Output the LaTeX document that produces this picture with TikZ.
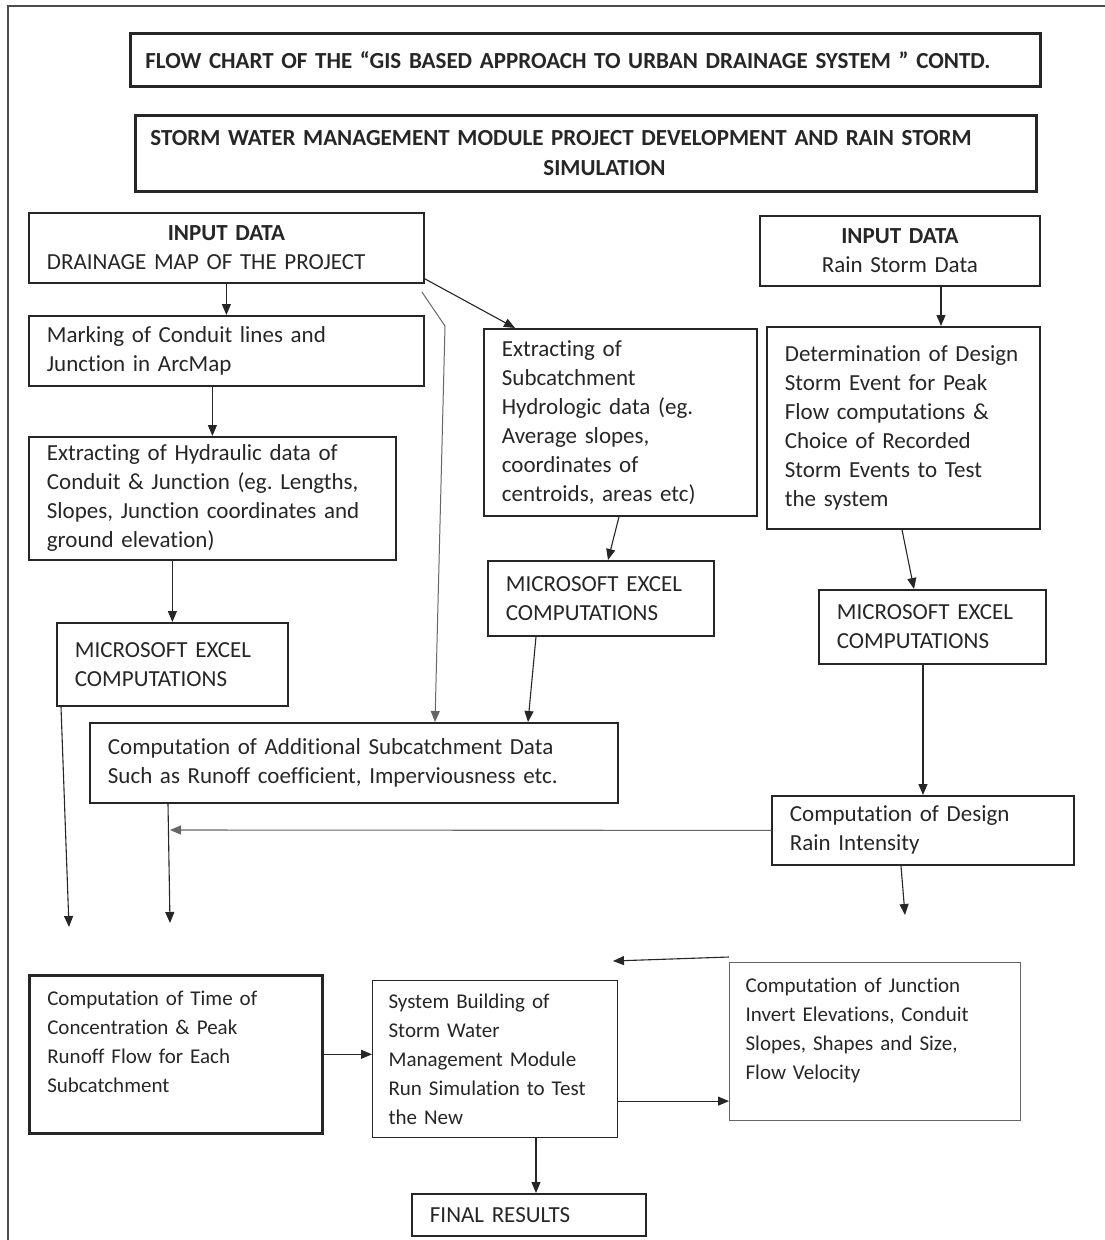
\documentclass[tikz,border=0pt]{standalone}
\usepackage{fontspec}
\setmainfont{Carlito}[Ligatures=NoCommon]
\usetikzlibrary{arrows.meta,positioning,calc}
\frenchspacing

\begin{document}
\begin{tikzpicture}[
  x=1pt,y=-1pt,
  font=\fontsize{23}{29}\selectfont,
  box/.style={draw=black!85,line width=1.8pt,anchor=north west,align=left,inner xsep=18pt,inner ysep=4pt,text=black!85},
  headbox/.style={box,line width=2.8pt,inner xsep=15pt,font=\fontsize{23}{30}\selectfont\bfseries},
  lightbox/.style={box,line width=1.1pt,inner xsep=16pt},
  low/.style={font=\fontsize{21}{29}\selectfont},
  topbox/.style={text height=26pt,text depth=124pt},
  arr/.style={-{Triangle[length=11pt,width=9pt]},line width=1.1pt,draw=black!85}
]
\useasboundingbox (0,0) rectangle (1105,1240);
\draw[line width=1.5pt,black!70] (8,1240) -- (8,6) -- (1105,6);

% titles
\node[headbox,minimum width=910pt,minimum height=53pt,text width=880pt] (title) at (129,32) {FLOW CHART OF THE “GIS BASED APPROACH TO URBAN DRAINAGE SYSTEM ” CONTD.};
\node[headbox,minimum width=901pt,minimum height=76pt,text width=871pt] (module) at (134,114) {STORM WATER MANAGEMENT MODULE PROJECT DEVELOPMENT AND RAIN STORM\\\hspace*{393pt}SIMULATION};

% left column
\node[box,text width=359pt,minimum height=70pt] (inp1) at (28,212) {\makebox[\linewidth]{\bfseries INPUT DATA}\\DRAINAGE MAP OF THE PROJECT};
\node[box,text width=359pt,minimum height=70pt] (mark) at (28,315) {Marking of Conduit lines and\\Junction in ArcMap};
\node[box,text width=331pt,minimum height=123pt] (hyd) at (28,436) {Extracting of Hydraulic data of\\Conduit \& Junction (eg. Lengths,\\Slopes, Junction coordinates and\\ground elevation)};
\node[box,text width=195pt,minimum height=83pt] (xl1) at (56,622) {MICROSOFT EXCEL\\COMPUTATIONS};

% middle column
\node[box,text width=237pt,minimum height=187pt] (sub) at (483,328) {Extracting of\\Subcatchment\\Hydrologic data (eg.\\Average slopes,\\coordinates of\\centroids, areas etc)};
\node[box,text width=190pt,minimum height=75pt] (xl2) at (487,560) {MICROSOFT EXCEL\\COMPUTATIONS};
\node[box,text width=492pt,minimum height=80pt] (add) at (89,722) {Computation of Additional Subcatchment Data\\Such as Runoff coefficient, Imperviousness etc.};

% right column
\node[box,text width=244pt,minimum height=70pt,align=center] (inp2) at (759,215) {\textbf{INPUT DATA}\hspace*{44pt}\\Rain Storm Data};
\node[box,text width=237pt,minimum height=202pt] (des) at (766,326) {Determination of Design\\Storm Event for Peak\\Flow computations \&\\Choice of Recorded\\Storm Events to Test\\the system};
\node[box,text width=191pt,minimum height=74pt] (xl3) at (818,589) {MICROSOFT EXCEL\\COMPUTATIONS};
\node[box,text width=266pt,minimum height=69pt] (rain) at (771,795) {Computation of Design\\Rain Intensity};

% bottom row
\node[box,low,topbox,line width=2.6pt,text width=257pt,minimum height=158pt] (tc) at (28,974) {Computation of Time of\\Concentration \& Peak\\Runoff Flow for Each\\Subcatchment};
\node[lightbox,low,text width=213pt,minimum height=157pt] (sys) at (372,980) {System Building of\\Storm Water\\Management Module\\Run Simulation to Test\\the New};
\node[lightbox,low,topbox,draw=black!60,text width=259pt,minimum height=158pt] (jun) at (729,962) {Computation of Junction\\Invert Elevations, Conduit\\Slopes, Shapes and Size,\\Flow Velocity};
\node[box,text width=198pt,minimum height=42pt] (fin) at (411,1193) {FINAL RESULTS};

% loose ends
\coordinate (bend) at (445,326);
\coordinate (hit) at (170,830);
\coordinate (end1) at (69,927);
\coordinate (end2) at (170,923);
\coordinate (end3) at (905,915);
\coordinate (end4) at (613,961);

\draw[arr] (inp1.south) -- (mark.north);
\draw[arr] (mark.south -| hyd.north) -- (hyd.north);
\draw[arr] (hyd.south -| xl1.north) -- (xl1.north);
\draw[arr] ($(inp1.south east)+(0,-5)$) -- ($(sub.north west)+(32,0)$);
\draw[arr,draw=black!60,line width=1pt] ($(inp1.south east)+(-3,8)$) -- (bend) -- ($(add.north west)+(346,0)$);
\draw[arr] ($(sub.south west)+(136,0)$) -- ($(xl2.north west)+(121,0)$);
\draw[arr] ($(xl2.south west)+(49,0)$) -- ($(add.north west)+(439,0)$);
\draw[arr] ($(inp2.south west)+(182,0)$) -- ($(des.north west)+(175,0)$);
\draw[arr] ($(des.south west)+(136,0)$) -- ($(xl3.north west)+(96,0)$);
\draw[arr] ($(xl3.south west)+(105,0)$) -- ($(rain.north west)+(152,0)$);
\draw[arr,draw=black!60] (rain.west) -- (hit);
\draw[arr] ($(add.south west)+(79,0)$) -- (end2);
\draw[arr] ($(xl1.south west)+(5,0)$) -- (end1);
\draw[arr] ($(rain.south west)+(130,0)$) -- (end3);
\draw[arr] (tc.east) -- (tc.east -| sys.west);
\draw[arr] ($(sys.south east)+(0,-37)$) coordinate (out) -- (out -| jun.west);
\draw[arr] ($(jun.north west)+(0,-5)$) -- (end4);
\draw[arr] ($(sys.south west)+(164,0)$) -- ($(fin.north west)+(125,0)$);
\end{tikzpicture}
\end{document}
